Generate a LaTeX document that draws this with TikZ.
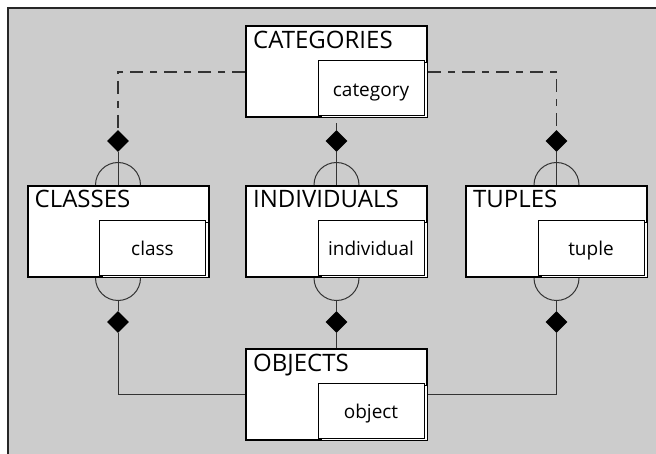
\documentclass[tikz,border=0pt]{standalone}
\usepackage{fontspec}
\setmainfont{Open Sans}
\usetikzlibrary{shapes.geometric}
\definecolor{bg}{HTML}{CCCCCC}
\definecolor{wire}{HTML}{333333}
\tikzset{
  entity/.style={draw=black, fill=white, line width=2pt, minimum width=181pt, minimum height=91pt, inner sep=0pt},
  slot/.style={draw=black, fill=white, line width=0.9pt, minimum width=106pt, minimum height=55pt, inner sep=0pt},
  title/.style={anchor=base west, inner sep=0pt, font=\fontsize{24}{24}\selectfont},
  attr/.style={anchor=base, inner sep=0pt, font=\fontsize{19}{19}\selectfont},
  joint/.style={diamond, fill=black, draw=none, minimum width=22pt, minimum height=22pt, inner sep=0pt},
  wire/.style={draw=wire, line width=1pt},
  dashdot/.style={draw=wire, line width=1.5pt, dash pattern=on 13pt off 7pt on 7pt off 7pt},
  cup/.style={draw=wire, line width=1pt},
}
% entity box: name, centre x, centre y, title, attribute
\newcommand\entitybox[5]{%
  \node[entity] (#1) at (#2,#3) {};
  \node[title] (#1-t) at ([xshift=8pt,yshift=-23pt]#1.north west) {#4};
  \node[slot] (#1-sh) at ([xshift=37.5pt,yshift=-18pt]#1.center) {};
  \node[slot] (#1-s) at ([xshift=34.5pt,yshift=-16pt]#1.center) {};
  \node[attr] (#1-a) at ([yshift=-36pt]#1-s.north) {#5};
}
\begin{document}
\begin{tikzpicture}[x=1pt,y=-1pt]
  \useasboundingbox (0,0) rectangle (656,454);
  % backdrop
  \fill[bg] (8,8) rectangle (656,454);
  \draw[line width=1.5pt, black!85] (8,454) -- (8,8) -- (656,8);

  % entities
  \entitybox{cat}{336.5}{72}{CATEGORIES}{category}
  \entitybox{cls}{118}{231.5}{CLASSES}{class}
  \entitybox{ind}{336.5}{231.5}{INDIVIDUALS}{individual}
  \entitybox{tup}{556.5}{231.5}{TUPLES}{tuple}
  \entitybox{obj}{336.5}{394.5}{OBJECTS}{object}

  % aggregation diamonds
  \node[joint] (clsTop) at (118,141) {};
  \node[joint] (indTop) at (336.5,141) {};
  \node[joint] (tupTop) at (556.5,141) {};
  \node[joint] (clsBot) at (118,322) {};
  \node[joint] (indBot) at (336.5,322) {};
  \node[joint] (tupBot) at (556.5,322) {};

  % half circles on the subclass boxes
  \foreach \e in {cls,ind,tup}{
    \draw[cup] ([xshift=-22.5pt]\e.north) arc[start angle=180, end angle=0, radius=22.5pt];
    \draw[cup] ([xshift=-22.5pt]\e.south) arc[start angle=180, end angle=360, radius=22.5pt];
    \coordinate (\e Cup) at ([yshift=-22.5pt]\e.south);
  }

  % links to CATEGORIES
  \draw[dashdot] (cat.west) -| (clsTop.north);
  \draw[dashdot] (cat.east) -| (tupTop.north);
  \draw[dashdot, dash phase=20pt] (indTop.north) -- (cat.south);
  \draw[wire] (clsTop.south) -- (cls.north);
  \draw[wire] (indTop.south) -- (ind.north);
  \draw[wire] (tupTop.south) -- (tup.north);

  % links to OBJECTS
  \draw[wire] (clsCup) -- (clsBot.north);
  \draw[wire] (indCup) -- (indBot.north);
  \draw[wire] (tupCup) -- (tupBot.north);
  \draw[wire] (clsBot.south) |- (obj.west);
  \draw[wire] (indBot.south) -- (obj.north);
  \draw[wire] (tupBot.south) |- (obj.east);
\end{tikzpicture}
\end{document}
